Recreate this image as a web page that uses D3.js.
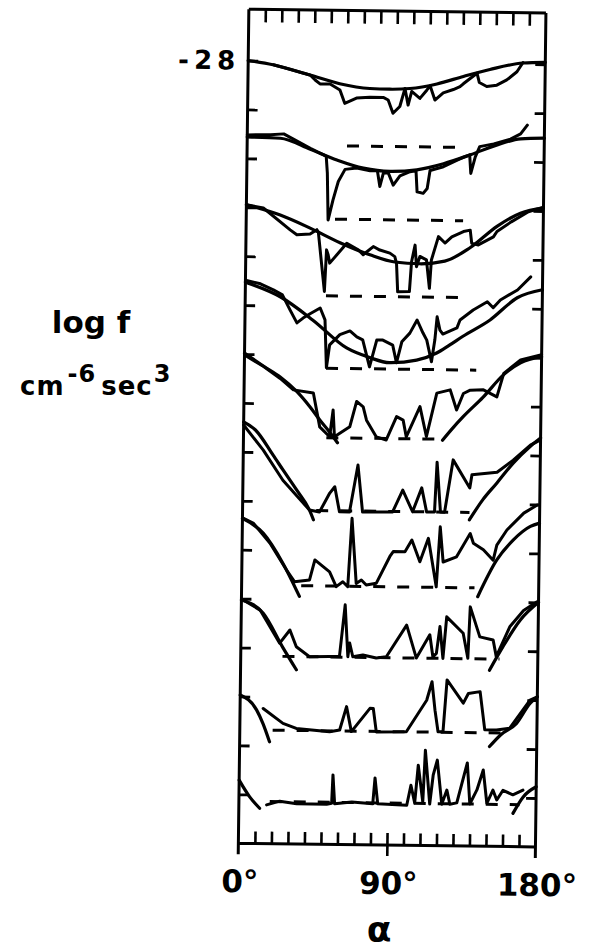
<!DOCTYPE html>
<html><head><meta charset="utf-8">
<script src="https://cdn.jsdelivr.net/npm/d3@7"></script>
<style>html,body{margin:0;padding:0;background:#fff;} svg{display:block;}</style>
</head><body><svg id="c" width="604" height="952"></svg>
<script>
// ---- tick values / labels ----
const alphaMinorTicks = [10,20,30,40,50,60,70,80,90,100,110,120,130,140,150,160,170];
const alphaMajorTicks = [0,90,180];
const alphaLabels = ["0°","90°","180°"];
const logTicks = [-28,-29,-30,-31,-32,-33,-34,-35,-36,-37,-38,-39,-40,-41,-42,-43];
const logLabel = "-28";

// ---- fitted curves (alpha deg, log f with panel offset); some panels have two arcs ----
const fit1 = [[[0,-28.0],[15,-28.08],[37.5,-28.28],[55.6,-28.45],[73.9,-28.54],[86,-28.55],[98.2,-28.53],[114.5,-28.43],[130.5,-28.27],[146.5,-28.12],[166.5,-27.98],[180,-27.96]]];
const fit2 = [[[0,-29.56],[20.1,-29.58],[38.3,-29.80],[54.5,-30.01],[70.6,-30.17],[86.8,-30.23],[103,-30.19],[119.1,-30.06],[135.3,-29.87],[151.5,-29.66],[165.6,-29.53],[180,-29.51]]];
const fit3 = [[[0,-30.95],[20.6,-31.15],[38.8,-31.41],[57,-31.70],[75.2,-31.94],[90.3,-32.08],[105.5,-32.11],[120.6,-32.05],[135.8,-31.77],[152.2,-31.32],[166.1,-31.05],[180,-30.94]]];
const fit4 = [[[0,-32.53],[21.2,-32.82],[41.2,-33.29],[61.8,-33.85],[75.8,-34.04],[87.9,-34.14],[104.3,-34.08],[116.4,-33.93],[124.3,-33.76],[132.2,-33.58],[148.5,-33.24],[164.8,-32.78],[180,-32.61]]];
const fit5 = [[[0,-33.98],[11.5,-34.24],[21.8,-34.46],[32.2,-34.76],[40,-35.06],[46.1,-35.33],[52.1,-35.57],[57,-35.79]],
              [[120.6,-35.71],[126.7,-35.46],[132.8,-35.23],[144.9,-34.82],[157,-34.36],[167.3,-34.11],[180,-33.98]]];
const fit6 = [[[0,-35.39],[7.2,-35.55],[18.1,-36.06],[24.2,-36.36],[32.7,-36.77],[40.5,-37.17],[43,-37.37]],
              [[137.5,-37.33],[145.4,-36.92],[153.9,-36.57],[163.6,-36.16],[173.9,-35.81],[180,-35.64]]];
const fit7 = [[[0,-37.36],[12.8,-37.66],[24.9,-38.27],[35.1,-38.94]],
              [[143.1,-38.90],[154.3,-38.15],[164.3,-37.73],[174.5,-37.45],[180,-37.38]]];
const fit8 = [[[0,-39.03],[13.2,-39.29],[25.3,-39.98],[33.8,-40.44]],
              [[150.8,-40.40],[158.7,-39.92],[169,-39.37],[180,-39.0]]];
const fit9 = [[[0,-40.97],[10,-41.27],[14,-41.55],[18.1,-41.92]],
              [[151.4,-41.96],[158,-41.72],[167.6,-41.48],[175.6,-41.07],[180,-40.93]]];
const fit10 = [[[0,-42.71],[6.5,-43.05],[12.6,-43.28]],
               [[166.1,-43.32],[172.2,-42.98],[180,-42.77]]];

// ---- measured distributions ----
const data1 = [[15.4,-28.08],[37.6,-28.28],[40.7,-28.38],[43.7,-28.46],[49.8,-28.46],[55.8,-28.58],[58.8,-28.85],[65.9,-28.74],[74,-28.72],[82.1,-28.72],[85.1,-28.77],[88.1,-29.04],[92.2,-28.90],[95.2,-28.53],[97.2,-28.87],[99.3,-28.59],[104.3,-28.73],[108.4,-28.56],[110.4,-28.47],[113.4,-28.76],[118.4,-28.61],[124.5,-28.54],[128.5,-28.48],[130.5,-28.42],[138.7,-28.20],[140.2,-28.39],[144.7,-28.47],[150.8,-28.44],[156.8,-28.33],[162.9,-28.16],[166.5,-27.97]];
const data2 = [[0,-29.52],[14.1,-29.51],[22.1,-29.49],[38.3,-29.78],[46.4,-29.91],[48,-29.94],[48.8,-30.28],[49.6,-31.24],[52.4,-30.83],[55.5,-30.45],[59.5,-30.20],[66.6,-30.17],[74.7,-30.22],[79.1,-30.22],[80.7,-30.54],[82.7,-30.27],[85.7,-30.26],[88.8,-30.51],[92.8,-30.32],[98.9,-30.23],[102.5,-30.21],[103.3,-30.64],[107,-30.67],[109.4,-30.57],[111,-30.20],[119.1,-30.12],[131.2,-29.92],[134.9,-29.87],[135.7,-30.25],[138.3,-29.91],[140.9,-29.70],[149.4,-29.64],[159.5,-29.54],[165.6,-29.43],[169.6,-29.25]];
const data3 = [[0,-30.95],[10.3,-31.01],[26.7,-31.45],[30.8,-31.55],[38.8,-31.53],[42.9,-31.44],[43.8,-31.49],[47.9,-32.70],[48.9,-31.85],[49.9,-31.95],[50.9,-32.12],[61.1,-31.71],[68.1,-31.84],[71.1,-31.94],[77.2,-31.77],[81.2,-31.84],[87.3,-31.90],[90.3,-31.97],[91.4,-32.11],[92.3,-32.69],[99.4,-32.68],[100.5,-32.07],[102.5,-31.73],[103.5,-32.17],[105.5,-31.96],[109.5,-32.03],[111.5,-32.61],[112.5,-32.03],[116.6,-31.55],[120.6,-31.68],[124.7,-31.55],[131.7,-31.44],[135.8,-31.41],[136.8,-31.68],[140.8,-31.71],[149.9,-31.54],[152,-31.43],[160.6,-31.23],[170.9,-31.02],[180,-30.92]];
const data4 = [[0,-32.49],[9.1,-32.56],[17,-32.68],[22.5,-32.78],[27.3,-33.09],[31.5,-33.35],[35.2,-33.25],[39.4,-33.16],[45.5,-33.04],[48.5,-33.28],[49.7,-34.26],[51.5,-33.79],[57.6,-33.58],[63.7,-33.50],[67.9,-33.62],[71.5,-33.68],[75.8,-34.23],[80,-33.68],[83.7,-33.68],[89.7,-33.78],[92.1,-34.14],[95.2,-33.71],[100,-33.53],[104.3,-33.26],[107.9,-33.52],[110.3,-33.67],[113.3,-34.11],[115.2,-33.66],[116.4,-33.19],[118.2,-33.46],[120,-33.54],[128.5,-33.41],[130.3,-33.25],[138.2,-33.04],[146.7,-32.87],[150.3,-32.99],[154.6,-32.83],[164.9,-32.62],[172.8,-32.35]];
const data5 = [[0,-34.02],[11.7,-34.25],[21.8,-34.49],[29.9,-34.72],[42,-34.78],[46.1,-35.47],[52.2,-35.67],[54.1,-35.12],[55.1,-35.67],[64.3,-35.46],[68.3,-34.94],[72.3,-35.05],[74.4,-35.32],[80.5,-35.66],[86.5,-35.72],[92.6,-35.24],[96.6,-35.31],[98.6,-35.65],[106.7,-35.03],[110.8,-35.64],[116.8,-34.75],[124.9,-34.68],[128.9,-35.09],[132.9,-34.75],[137,-34.68],[145,-34.67],[153.2,-34.81],[157.2,-34.33],[167.3,-34.05],[180,-33.94]];
const data6 = [[0,-35.45],[12.1,-35.96],[24.2,-36.57],[40.5,-37.17],[46.6,-37.21],[52.7,-36.82],[55.7,-36.69],[58.7,-37.20],[64.8,-37.20],[69.6,-36.24],[72.7,-37.20],[90.9,-37.19],[96.9,-36.74],[103,-37.18],[108.4,-36.69],[111.5,-37.18],[116.3,-37.18],[117.5,-36.16],[119.9,-37.18],[122.4,-37.18],[127.2,-36.11],[137.5,-36.68],[138.7,-36.41],[153.9,-36.35],[163.6,-36.10],[173.9,-35.79],[180,-35.68]];
const data7 = [[0.7,-37.36],[6.8,-37.46],[16.9,-37.86],[27,-38.40],[32,-38.64],[41.1,-38.60],[44.2,-38.19],[53.2,-38.43],[57.3,-38.73],[61.3,-38.63],[64.3,-38.73],[66.4,-37.33],[69.4,-38.66],[72.5,-38.59],[75.5,-38.69],[81.6,-38.65],[89.6,-38.10],[91.6,-38.00],[98.7,-38.00],[102.8,-37.76],[107.8,-38.20],[112.8,-37.72],[115.8,-38.30],[117.9,-38.71],[119.9,-37.48],[121.9,-38.20],[130,-38.09],[138.1,-37.61],[140.1,-37.81],[146.2,-37.94],[152.2,-38.15],[154.3,-37.84],[160.3,-37.53],[170.4,-37.18],[178.5,-37.01]];
const data8 = [[1.3,-39.03],[11.4,-39.23],[23.5,-39.90],[29.6,-39.63],[33.6,-39.97],[41.7,-40.17],[53.8,-40.16],[59.8,-40.16],[62.9,-39.10],[64.9,-40.16],[65.9,-39.88],[67.9,-40.16],[74,-40.12],[82.1,-40.18],[88.2,-40.15],[100.3,-39.50],[106.4,-40.17],[114.4,-39.69],[116.4,-40.14],[118.5,-40.07],[120.5,-39.52],[122.5,-40.17],[124.5,-39.32],[134.6,-39.65],[137.6,-40.16],[138.7,-39.11],[144.7,-39.72],[152.8,-39.78],[154.8,-40.12],[162.9,-39.50],[171,-39.17],[179.1,-38.99]];
const data9 = [[14,-41.24],[26.1,-41.54],[34.2,-41.64],[54.4,-41.70],[60.5,-41.66],[64.5,-41.18],[67.6,-41.69],[78.7,-41.21],[80.7,-41.21],[82.7,-41.69],[100.9,-41.68],[113,-41.03],[116.1,-40.65],[118.1,-41.23],[120.1,-41.67],[123.1,-41.67],[125.2,-40.61],[135.2,-41.08],[138.2,-40.88],[145.3,-40.84],[148.4,-41.62],[155.5,-41.62],[163.5,-41.58],[175.6,-41.00],[180,-40.93]];
const data10 = [[16.8,-43.21],[24.7,-43.13],[35,-43.18],[53.2,-43.18],[56.2,-43.16],[56.8,-42.58],[58,-43.17],[68.4,-43.13],[81.1,-43.16],[82.3,-42.63],[84.1,-43.16],[101.7,-43.18],[104.1,-42.77],[106.5,-43.13],[108.4,-42.36],[111.4,-43.11],[112.6,-42.05],[115.6,-43.15],[117.5,-42.56],[119.9,-42.25],[122.9,-43.15],[125.9,-42.86],[127.8,-43.15],[132,-43.12],[138.1,-42.30],[139.9,-43.14],[144.1,-42.85],[147.8,-42.44],[150.2,-43.12],[153.8,-42.85],[156.2,-43.05],[159.9,-42.85],[165.9,-42.94],[172,-42.84]];

// ---- one-count (dashed) levels per panel ----
const floorLevel = [-29.72,-31.22,-32.79,-34.27,-35.69,-37.18,-38.72,-40.17,-41.68,-43.14];
const floorStart = [60.5,53.8,48.9,49.5,50.2,44.6,36.1,25.3,19.9,18.7];
const floorEnd   = [127.8,131.4,133.8,140.5,120.8,137.5,141.1,156.8,163.5,170];

const fits = [fit1,fit2,fit3,fit4,fit5,fit6,fit7,fit8,fit9,fit10];
const datas = [data1,data2,data3,data4,data5,data6,data7,data8,data9,data10];

const svg = d3.select("#c");
svg.append("rect").attr("width",604).attr("height",952).attr("fill","#fff");

const x = d3.scaleLinear().domain([0,180]).range([243.6,540.7]);
const y = d3.scaleLinear().domain([-44,-26.95]).range([845.1,11]);
const INK = "#000";

const g = svg.append("g").attr("transform","rotate(0.72,392,428)");

// frame
const x0 = x(0), x1 = x(180), yTop = y(-26.95), yBot = y(-44);
g.append("path")
  .attr("d",`M${x0},${yTop}H${x1}M${x0},${yTop}V${yBot+11}M${x1},${yTop}V${yBot+11}M${x0},${yBot}H${x1}`)
  .attr("fill","none").attr("stroke",INK).attr("stroke-width",3);

function styleAxis(sel, w){
  sel.select(".domain").remove();
  sel.selectAll("text").remove();
  sel.selectAll("line").attr("stroke",INK).attr("stroke-width",w);
}
g.append("g").attr("transform",`translate(0,${yTop})`)
  .call(d3.axisBottom(x).tickValues(alphaMinorTicks).tickSize(13).tickFormat(""))
  .call(s=>styleAxis(s,2.6));
g.append("g").attr("transform",`translate(0,${yBot})`)
  .call(d3.axisTop(x).tickValues(alphaMinorTicks).tickSize(12).tickFormat(""))
  .call(s=>styleAxis(s,2.6));
g.append("g").attr("transform",`translate(0,${yBot})`)
  .call(d3.axisBottom(x).tickValues([90]).tickSize(11).tickFormat(""))
  .call(s=>styleAxis(s,2.6));
g.append("g").attr("transform",`translate(${x0},0)`)
  .call(d3.axisRight(y).tickValues(logTicks).tickSize(10).tickFormat(""))
  .call(s=>styleAxis(s,2.8));
g.append("g").attr("transform",`translate(${x1},0)`)
  .call(d3.axisLeft(y).tickValues(logTicks).tickSize(10).tickFormat(""))
  .call(s=>styleAxis(s,2.8));

// dashed one-count levels
floorLevel.forEach((lv,i)=>{
  g.append("line")
    .attr("x1",x(floorStart[i])).attr("x2",x(floorEnd[i]))
    .attr("y1",y(lv)).attr("y2",y(lv))
    .attr("stroke",INK).attr("stroke-width",3)
    .attr("stroke-dasharray","12,12");
});

const fitLine = d3.line().x(d=>x(d[0])).y(d=>y(d[1])).curve(d3.curveMonotoneX);
const dataLine = d3.line().x(d=>x(d[0])).y(d=>y(d[1]));

fits.forEach(arcs=>arcs.forEach(arc=>{
  g.append("path").attr("d",fitLine(arc)).attr("fill","none")
   .attr("stroke",INK).attr("stroke-width",3.2).attr("stroke-linecap","round");
}));
datas.forEach(d=>{
  g.append("path").attr("d",dataLine(d)).attr("fill","none")
   .attr("stroke",INK).attr("stroke-width",3)
   .attr("stroke-linejoin","round").attr("stroke-linecap","round");
});

// labels
const font = "DejaVu Sans";
g.append("text").attr("x",x0-8).attr("y",y(-28)+9)
  .attr("text-anchor","end").attr("font-family",font).attr("font-weight","bold")
  .attr("font-size",26).attr("letter-spacing",5).attr("fill",INK).text(logLabel);

alphaMajorTicks.forEach((v,i)=>{
  g.append("text").attr("x",x(v)+2).attr("y",yBot+49)
   .attr("text-anchor","middle").attr("font-family",font).attr("font-weight","bold")
   .attr("font-size",31).attr("fill",INK).text(alphaLabels[i]);
});
svg.append("text").attr("x",379).attr("y",942)
  .attr("text-anchor","middle").attr("font-family",font).attr("font-weight","bold")
  .attr("font-size",36).attr("fill",INK).text("α");

svg.append("text").attr("x",91).attr("y",333)
  .attr("text-anchor","middle").attr("font-family",font).attr("font-weight","bold")
  .attr("font-size",31).attr("fill",INK).text("log f");
const u = svg.append("text").attr("x",20).attr("y",395)
  .attr("font-family",font).attr("font-weight","bold").attr("font-size",26)
  .attr("letter-spacing",1).attr("fill",INK);
u.append("tspan").text("cm");
u.append("tspan").attr("dy",-13).attr("dx",3).attr("font-size",24).text("-6");
u.append("tspan").attr("dy",13).attr("dx",5).text("sec");
u.append("tspan").attr("dy",-13).attr("dx",1).attr("font-size",24).text("3");
</script></body></html>
